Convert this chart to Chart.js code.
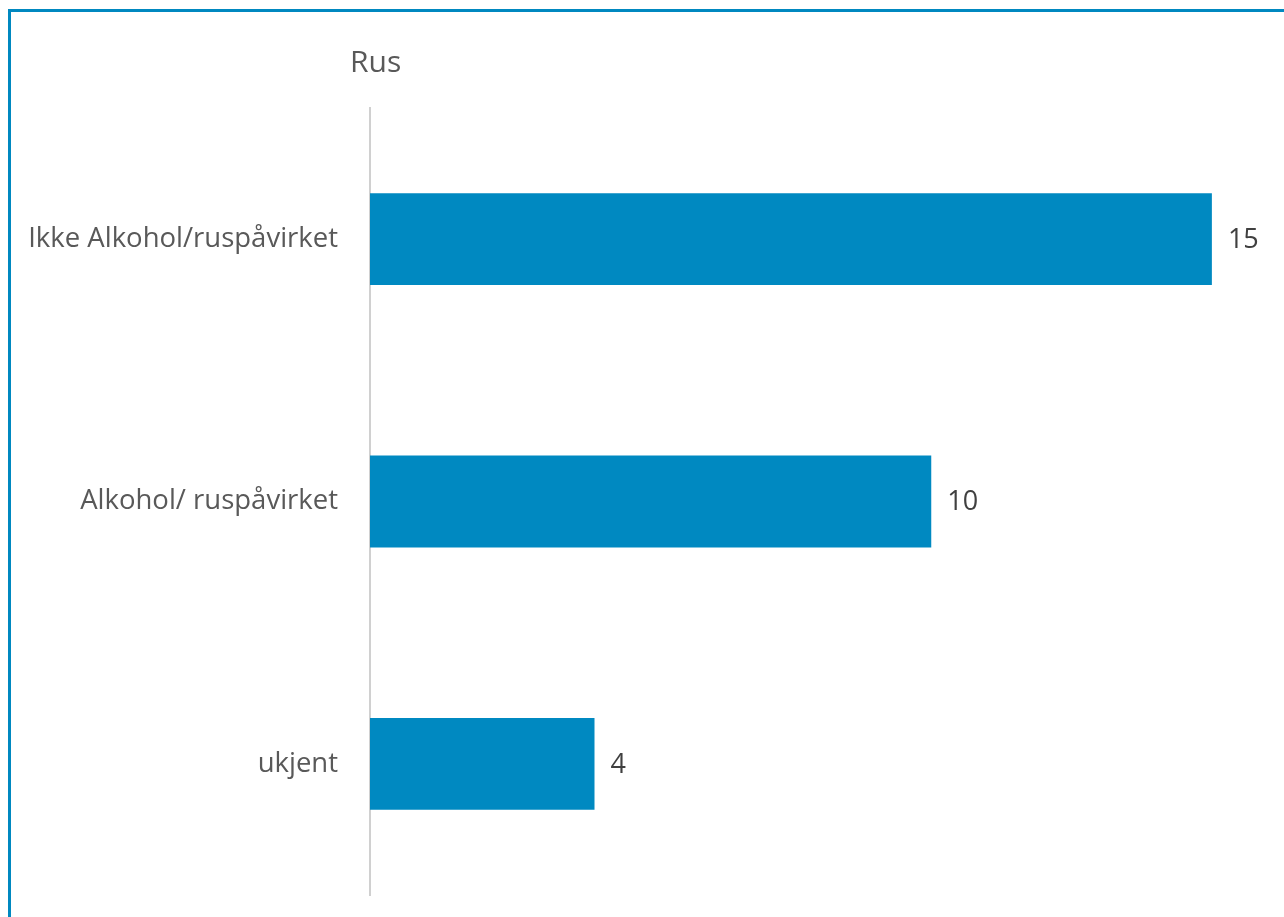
<!DOCTYPE html>
<html>
<head>
<meta charset="utf-8">
<script src="https://cdn.jsdelivr.net/npm/chart.js@4"></script>
<style>
  html, body { margin: 0; padding: 0; background: #fff; overflow: hidden; }
  #wrap { position: relative; width: 1284px; height: 917px; }
  canvas { display: block; }
  #frame {
    position: absolute; left: 8px; top: 9px; right: 0; bottom: 0;
    border-left: 3px solid #0088c0; border-top: 3px solid #0088c0;
    pointer-events: none;
  }
</style>
</head>
<body>
<div id="wrap">
  <canvas id="chart" width="1284" height="917"></canvas>
  <div id="frame"></div>
</div>
<script>
// Data
const categories = ['Ikke Alkohol/ruspåvirket', 'Alkohol/ ruspåvirket', 'ukjent'];
const values = [15, 10, 4];
const chartTitle = 'Rus';

const COLORS = {
  bar: '#0089c1',
  text: '#595959',
  value: '#404040',
  axis: '#d0d0d0',
};
const FONT = "'Open Sans', sans-serif";

// title above the axis + value labels at bar ends
const labelsPlugin = {
  id: 'labels',
  afterDatasetsDraw(chart) {
    const ctx = chart.ctx;
    const area = chart.chartArea;
    ctx.save();
    ctx.fillStyle = COLORS.text;
    ctx.font = `30px ${FONT}`;
    ctx.textAlign = 'left';
    ctx.textBaseline = 'middle';
    ctx.fillText(chartTitle, area.left - 20, area.top - 45);

    ctx.fillStyle = COLORS.value;
    ctx.font = `27px ${FONT}`;
    chart.getDatasetMeta(0).data.forEach((bar, i) => {
      ctx.fillText(String(values[i]), bar.x + 16, bar.y + 1);
    });
    ctx.restore();
  },
};

const chart = new Chart(document.getElementById('chart'), {
  type: 'bar',
  data: {
    labels: categories,
    datasets: [{
      data: values,
      backgroundColor: COLORS.bar,
      borderWidth: 0,
      categoryPercentage: 1,
      barPercentage: 0.35,
    }],
  },
  options: {
    indexAxis: 'y',
    responsive: false,
    animation: false,
    layout: { padding: { top: 108, right: 16, bottom: 22, left: 0 } },
    plugins: {
      legend: { display: false },
      tooltip: { enabled: false },
    },
    scales: {
      x: { display: false, min: 0, max: 16 },
      y: {
        afterFit(scale) {
          scale.width = 370;
          scale.paddingTop = 0;
          scale.paddingBottom = 0;
        },
        grid: { display: false, drawTicks: false },
        border: { display: true, color: COLORS.axis, width: 2 },
        ticks: {
          padding: 32,
          color: COLORS.text,
          font: { family: FONT, size: 27.5 },
        },
      },
    },
  },
  plugins: [labelsPlugin],
});
</script>
</body>
</html>
